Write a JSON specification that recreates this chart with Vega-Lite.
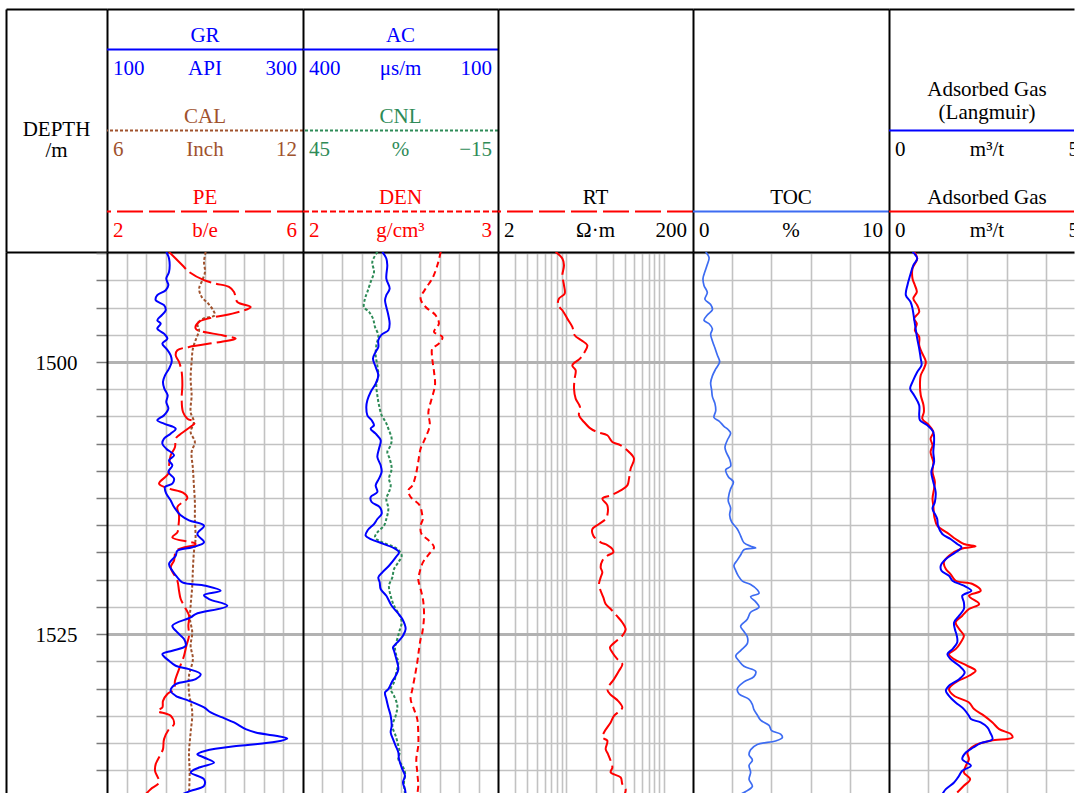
{
  "$schema": "https://vega.github.io/schema/vega-lite/v6.json",
  "background": "white",
  "padding": {"left": 6, "top": 9, "right": 0, "bottom": 0},
  "spacing": 0,
  "bounds": "flush",
  "columns": 6,
  "config": {
    "view": {"stroke": null},
    "axis": {"labels": false, "ticks": false, "grid": false, "domain": true, "domainColor": "#000000", "domainWidth": 2, "gridColor": "#c2c2c2", "gridWidth": 1.6},
    "text": {"font": "Liberation Serif", "fontSize": 21},
    "line": {"strokeWidth": 2, "interpolate": "catmull-rom"}
  },
  "datasets": {
    "header": [
      {"track": "D", "slot": 1.5, "curve": "DEPTH", "title": "DEPTH", "unit": "/m", "lo": "", "hi": ""},
      {"track": "T1", "slot": 0.5, "curve": "GR", "title": "GR", "unit": "API", "lo": "100", "hi": "300"},
      {"track": "T1", "slot": 1.5, "curve": "CAL", "title": "CAL", "unit": "Inch", "lo": "6", "hi": "12"},
      {"track": "T1", "slot": 2.5, "curve": "PE", "title": "PE", "unit": "b/e", "lo": "2", "hi": "6"},
      {"track": "T2", "slot": 0.5, "curve": "AC", "title": "AC", "unit": "μs/m", "lo": "400", "hi": "100"},
      {"track": "T2", "slot": 1.5, "curve": "CNL", "title": "CNL", "unit": "%", "lo": "45", "hi": "−15"},
      {"track": "T2", "slot": 2.5, "curve": "DEN", "title": "DEN", "unit": "g/cm³", "lo": "2", "hi": "3"},
      {"track": "T3", "slot": 2.5, "curve": "RT", "title": "RT", "unit": "Ω·m", "lo": "2", "hi": "200"},
      {"track": "T4", "slot": 2.5, "curve": "TOC", "title": "TOC", "unit": "%", "lo": "0", "hi": "10"},
      {"track": "T5", "slot": 1.5, "curve": "AGL", "title": "Adsorbed Gas\n(Langmuir)", "unit": "m³/t", "lo": "0", "hi": "5"},
      {"track": "T5", "slot": 2.5, "curve": "AG", "title": "Adsorbed Gas", "unit": "m³/t", "lo": "0", "hi": "5"}
    ],
    "depthLabels": [{"depth": 1500}, {"depth": 1525}],
    "GR": [
      {"depth":1489.89,"value":160.5},{"depth":1490.5,"value":163.3},{"depth":1491.73,"value":163.3},{"depth":1492.34,"value":160.5},{"depth":1492.95,"value":162.6},{"depth":1493.41,"value":159.9},{"depth":1493.87,"value":151.3},{"depth":1494.33,"value":149.7},{"depth":1494.79,"value":158.2},{"depth":1495.25,"value":159.9},{"depth":1495.71,"value":155.8},{"depth":1496.17,"value":151.3},{"depth":1496.48,"value":154.8},{"depth":1496.94,"value":151.3},{"depth":1497.4,"value":158.2},{"depth":1497.86,"value":161.6},{"depth":1498.32,"value":156.5},{"depth":1498.77,"value":160.5},{"depth":1499.39,"value":165.0},{"depth":1500.0,"value":166.0},{"depth":1500.61,"value":163.3},{"depth":1501.23,"value":159.2},{"depth":1501.84,"value":157.1},{"depth":1502.45,"value":158.5},{"depth":1503.06,"value":161.9},{"depth":1503.68,"value":160.5},{"depth":1504.29,"value":162.6},{"depth":1504.9,"value":158.2},{"depth":1505.36,"value":151.3},{"depth":1505.67,"value":158.2},{"depth":1506.13,"value":170.1},{"depth":1506.59,"value":164.9},{"depth":1507.05,"value":158.2},{"depth":1507.51,"value":156.5},{"depth":1507.97,"value":160.5},{"depth":1508.58,"value":168.4},{"depth":1509.04,"value":163.3},{"depth":1509.5,"value":166.7},{"depth":1510.11,"value":162.6},{"depth":1510.72,"value":168.4},{"depth":1511.18,"value":166.7},{"depth":1511.49,"value":159.2},{"depth":1512.1,"value":160.5},{"depth":1512.72,"value":165.0},{"depth":1513.33,"value":168.4},{"depth":1514.09,"value":175.2},{"depth":1514.55,"value":183.7},{"depth":1515.04,"value":199.0},{"depth":1515.81,"value":192.2},{"depth":1516.57,"value":199.0},{"depth":1517.03,"value":187.1},{"depth":1517.34,"value":171.8},{"depth":1517.8,"value":170.1},{"depth":1518.57,"value":163.3},{"depth":1519.18,"value":166.7},{"depth":1519.79,"value":171.8},{"depth":1520.25,"value":176.9},{"depth":1520.56,"value":200.7},{"depth":1521.02,"value":216.0},{"depth":1521.42,"value":199.0},{"depth":1521.78,"value":204.1},{"depth":1522.4,"value":222.8},{"depth":1523.16,"value":190.5},{"depth":1523.47,"value":185.4},{"depth":1524.23,"value":166.7},{"depth":1524.85,"value":171.8},{"depth":1525.46,"value":178.6},{"depth":1526.07,"value":180.3},{"depth":1526.53,"value":166.7},{"depth":1526.84,"value":156.5},{"depth":1527.45,"value":163.3},{"depth":1527.91,"value":170.1},{"depth":1528.22,"value":183.7},{"depth":1528.68,"value":195.6},{"depth":1529.14,"value":190.5},{"depth":1529.6,"value":170.1},{"depth":1530.21,"value":164.9},{"depth":1530.67,"value":170.1},{"depth":1531.13,"value":183.7},{"depth":1531.74,"value":199.0},{"depth":1532.2,"value":205.8},{"depth":1532.66,"value":217.7},{"depth":1533.12,"value":229.6},{"depth":1533.73,"value":241.5},{"depth":1534.04,"value":251.7},{"depth":1534.34,"value":272.1},{"depth":1534.59,"value":284.0},{"depth":1534.9,"value":272.1},{"depth":1535.26,"value":234.7},{"depth":1535.72,"value":200.7},{"depth":1536.03,"value":192.2},{"depth":1536.34,"value":199.0},{"depth":1536.8,"value":209.2},{"depth":1537.26,"value":193.9},{"depth":1537.71,"value":185.4},{"depth":1538.33,"value":199.0},{"depth":1538.94,"value":199.0},{"depth":1539.4,"value":185.4},{"depth":1539.71,"value":176.9}
    ],
    "CAL": [
      {"depth":1489.89,"value":9.02},{"depth":1490.81,"value":8.97},{"depth":1491.73,"value":9.0},{"depth":1492.49,"value":8.92},{"depth":1493.26,"value":8.82},{"depth":1494.03,"value":8.9},{"depth":1494.64,"value":9.1},{"depth":1495.25,"value":9.25},{"depth":1495.71,"value":9.3},{"depth":1496.02,"value":8.95},{"depth":1496.48,"value":8.77},{"depth":1497.09,"value":8.82},{"depth":1497.86,"value":8.73},{"depth":1498.77,"value":8.63},{"depth":1500.0,"value":8.59},{"depth":1501.53,"value":8.56},{"depth":1503.06,"value":8.59},{"depth":1504.6,"value":8.56},{"depth":1505.52,"value":8.66},{"depth":1506.44,"value":8.56},{"depth":1507.35,"value":8.69},{"depth":1508.27,"value":8.59},{"depth":1509.8,"value":8.63},{"depth":1511.34,"value":8.66},{"depth":1512.87,"value":8.69},{"depth":1514.4,"value":8.69},{"depth":1516.27,"value":8.71},{"depth":1517.49,"value":8.66},{"depth":1519.03,"value":8.63},{"depth":1520.56,"value":8.61},{"depth":1522.4,"value":8.56},{"depth":1523.62,"value":8.54},{"depth":1524.85,"value":8.61},{"depth":1526.07,"value":8.56},{"depth":1527.3,"value":8.63},{"depth":1528.83,"value":8.51},{"depth":1530.36,"value":8.51},{"depth":1532.2,"value":8.61},{"depth":1534.04,"value":8.56},{"depth":1535.88,"value":8.51},{"depth":1537.71,"value":8.53},{"depth":1539.71,"value":8.51}
    ],
    "PE": [
      {"depth":1489.89,"value":3.266},{"depth":1491.12,"value":3.538},{"depth":1491.73,"value":3.674},{"depth":1492.49,"value":3.98},{"depth":1492.8,"value":4.218},{"depth":1493.11,"value":4.49},{"depth":1493.57,"value":4.592},{"depth":1494.49,"value":4.66},{"depth":1494.95,"value":4.932},{"depth":1495.56,"value":4.558},{"depth":1495.86,"value":4.218},{"depth":1496.32,"value":3.878},{"depth":1496.94,"value":3.81},{"depth":1497.55,"value":4.354},{"depth":1497.86,"value":4.626},{"depth":1498.16,"value":4.32},{"depth":1498.62,"value":3.674},{"depth":1498.93,"value":3.436},{"depth":1499.39,"value":3.402},{"depth":1500.0,"value":3.47},{"depth":1500.92,"value":3.524},{"depth":1502.14,"value":3.538},{"depth":1503.37,"value":3.524},{"depth":1504.6,"value":3.551},{"depth":1505.21,"value":3.64},{"depth":1505.52,"value":3.796},{"depth":1506.28,"value":3.606},{"depth":1506.68,"value":3.483},{"depth":1507.05,"value":3.402},{"depth":1507.81,"value":3.388},{"depth":1508.58,"value":3.3},{"depth":1509.5,"value":3.266},{"depth":1510.26,"value":3.252},{"depth":1511.18,"value":3.062},{"depth":1511.64,"value":3.266},{"depth":1512.01,"value":3.551},{"depth":1512.5,"value":3.64},{"depth":1513.33,"value":3.436},{"depth":1514.09,"value":3.47},{"depth":1515.17,"value":3.456},{"depth":1515.66,"value":3.436},{"depth":1516.12,"value":3.334},{"depth":1516.73,"value":3.81},{"depth":1517.34,"value":3.415},{"depth":1518.26,"value":3.368},{"depth":1518.87,"value":3.3},{"depth":1520.1,"value":3.436},{"depth":1521.02,"value":3.47},{"depth":1521.78,"value":3.504},{"depth":1522.55,"value":3.592},{"depth":1523.31,"value":3.674},{"depth":1524.23,"value":3.66},{"depth":1525.15,"value":3.674},{"depth":1526.07,"value":3.62},{"depth":1526.99,"value":3.572},{"depth":1528.22,"value":3.47},{"depth":1529.29,"value":3.388},{"depth":1530.06,"value":3.368},{"depth":1530.51,"value":3.232},{"depth":1531.13,"value":3.143},{"depth":1531.74,"value":3.13},{"depth":1532.05,"value":3.028},{"depth":1532.51,"value":3.3},{"depth":1533.27,"value":3.368},{"depth":1533.73,"value":3.266},{"depth":1534.65,"value":3.164},{"depth":1535.57,"value":3.143},{"depth":1536.03,"value":3.096},{"depth":1536.95,"value":2.994},{"depth":1537.56,"value":2.98},{"depth":1538.63,"value":3.062},{"depth":1539.25,"value":2.891},{"depth":1539.71,"value":2.79}
    ],
    "AC": [
      {"depth":1489.89,"value":277.9},{"depth":1490.5,"value":271.8},{"depth":1491.12,"value":270.3},{"depth":1492.34,"value":271.8},{"depth":1493.26,"value":266.7},{"depth":1493.87,"value":271.8},{"depth":1494.33,"value":273.8},{"depth":1494.95,"value":271.8},{"depth":1495.71,"value":268.7},{"depth":1496.48,"value":266.7},{"depth":1497.09,"value":268.7},{"depth":1497.49,"value":279.0},{"depth":1498.01,"value":284.1},{"depth":1498.62,"value":284.1},{"depth":1499.08,"value":288.2},{"depth":1499.69,"value":292.3},{"depth":1500.46,"value":288.2},{"depth":1501.23,"value":284.1},{"depth":1501.99,"value":288.2},{"depth":1502.76,"value":295.9},{"depth":1503.52,"value":301.0},{"depth":1504.14,"value":302.6},{"depth":1504.9,"value":301.0},{"depth":1505.36,"value":294.4},{"depth":1505.82,"value":290.8},{"depth":1506.13,"value":295.9},{"depth":1506.59,"value":288.2},{"depth":1507.2,"value":280.5},{"depth":1507.97,"value":283.1},{"depth":1508.73,"value":285.6},{"depth":1509.5,"value":280.5},{"depth":1510.11,"value":279.0},{"depth":1510.72,"value":283.1},{"depth":1511.34,"value":288.2},{"depth":1511.95,"value":285.6},{"depth":1512.41,"value":295.9},{"depth":1512.87,"value":294.4},{"depth":1513.33,"value":282.0},{"depth":1513.94,"value":279.0},{"depth":1514.43,"value":285.6},{"depth":1514.89,"value":290.8},{"depth":1515.5,"value":301.0},{"depth":1515.96,"value":303.6},{"depth":1516.27,"value":295.9},{"depth":1516.73,"value":275.4},{"depth":1517.19,"value":257.4},{"depth":1517.49,"value":252.3},{"depth":1517.95,"value":257.4},{"depth":1518.72,"value":267.7},{"depth":1519.33,"value":277.9},{"depth":1519.79,"value":284.1},{"depth":1520.25,"value":282.0},{"depth":1520.86,"value":280.5},{"depth":1521.48,"value":271.8},{"depth":1522.4,"value":263.6},{"depth":1523.01,"value":254.9},{"depth":1523.62,"value":247.2},{"depth":1524.54,"value":242.1},{"depth":1525.15,"value":246.2},{"depth":1525.77,"value":254.9},{"depth":1526.23,"value":261.5},{"depth":1526.53,"value":260.0},{"depth":1527.3,"value":256.4},{"depth":1528.22,"value":253.3},{"depth":1528.83,"value":257.4},{"depth":1529.44,"value":263.6},{"depth":1530.06,"value":268.7},{"depth":1530.36,"value":273.8},{"depth":1530.97,"value":271.8},{"depth":1531.74,"value":268.7},{"depth":1532.51,"value":265.1},{"depth":1533.43,"value":263.6},{"depth":1534.04,"value":265.1},{"depth":1534.65,"value":261.5},{"depth":1535.26,"value":257.4},{"depth":1535.88,"value":253.3},{"depth":1536.49,"value":252.3},{"depth":1537.41,"value":247.2},{"depth":1538.02,"value":243.1},{"depth":1538.63,"value":246.2},{"depth":1539.25,"value":243.1},{"depth":1539.71,"value":242.1}
    ],
    "CNL": [
      {"depth":1489.89,"value":22.1},{"depth":1490.81,"value":23.67},{"depth":1491.73,"value":23.15},{"depth":1492.65,"value":24.18},{"depth":1493.57,"value":25.2},{"depth":1494.18,"value":25.92},{"depth":1494.95,"value":26.23},{"depth":1495.4,"value":24.69},{"depth":1496.02,"value":23.46},{"depth":1496.78,"value":22.85},{"depth":1497.55,"value":21.82},{"depth":1498.47,"value":22.43},{"depth":1499.39,"value":22.64},{"depth":1500.31,"value":22.13},{"depth":1501.23,"value":21.82},{"depth":1502.14,"value":22.43},{"depth":1503.06,"value":22.13},{"depth":1503.98,"value":21.61},{"depth":1504.9,"value":20.8},{"depth":1505.52,"value":19.56},{"depth":1506.13,"value":18.74},{"depth":1507.05,"value":17.72},{"depth":1507.66,"value":18.02},{"depth":1508.27,"value":19.05},{"depth":1508.89,"value":18.33},{"depth":1509.8,"value":17.72},{"depth":1510.72,"value":18.54},{"depth":1511.34,"value":18.02},{"depth":1511.95,"value":18.54},{"depth":1512.56,"value":19.36},{"depth":1513.48,"value":18.74},{"depth":1514.43,"value":19.36},{"depth":1515.04,"value":20.08},{"depth":1515.66,"value":22.13},{"depth":1516.12,"value":22.85},{"depth":1516.57,"value":20.59},{"depth":1517.19,"value":15.97},{"depth":1517.8,"value":14.64},{"depth":1518.41,"value":15.67},{"depth":1519.03,"value":17.0},{"depth":1519.79,"value":17.51},{"depth":1520.56,"value":18.54},{"depth":1521.48,"value":18.02},{"depth":1522.4,"value":17.0},{"depth":1523.31,"value":15.25},{"depth":1523.93,"value":14.64},{"depth":1524.85,"value":15.46},{"depth":1525.77,"value":16.28},{"depth":1526.23,"value":16.69},{"depth":1526.99,"value":16.28},{"depth":1527.6,"value":15.67},{"depth":1528.52,"value":16.28},{"depth":1529.44,"value":17.0},{"depth":1530.06,"value":18.02},{"depth":1530.67,"value":17.0},{"depth":1531.59,"value":15.97},{"depth":1532.51,"value":16.49},{"depth":1533.43,"value":17.51},{"depth":1534.34,"value":16.49},{"depth":1535.26,"value":15.67},{"depth":1535.88,"value":15.25},{"depth":1536.49,"value":15.67},{"depth":1537.1,"value":14.43},{"depth":1537.71,"value":13.61},{"depth":1538.63,"value":13.92},{"depth":1539.71,"value":13.61}
    ],
    "DEN": [
      {"depth":1489.89,"value":2.706},{"depth":1491.12,"value":2.689},{"depth":1492.34,"value":2.663},{"depth":1493.26,"value":2.629},{"depth":1494.18,"value":2.603},{"depth":1494.95,"value":2.629},{"depth":1495.71,"value":2.68},{"depth":1496.48,"value":2.697},{"depth":1497.24,"value":2.672},{"depth":1497.7,"value":2.715},{"depth":1498.32,"value":2.697},{"depth":1498.77,"value":2.663},{"depth":1499.69,"value":2.663},{"depth":1500.92,"value":2.672},{"depth":1502.14,"value":2.677},{"depth":1503.37,"value":2.66},{"depth":1504.6,"value":2.643},{"depth":1505.82,"value":2.65},{"depth":1507.05,"value":2.626},{"depth":1507.97,"value":2.603},{"depth":1509.19,"value":2.591},{"depth":1510.42,"value":2.578},{"depth":1511.34,"value":2.561},{"depth":1511.8,"value":2.54},{"depth":1512.41,"value":2.552},{"depth":1513.17,"value":2.598},{"depth":1514.09,"value":2.612},{"depth":1514.43,"value":2.615},{"depth":1515.04,"value":2.603},{"depth":1515.81,"value":2.608},{"depth":1516.42,"value":2.646},{"depth":1517.03,"value":2.672},{"depth":1517.65,"value":2.646},{"depth":1518.41,"value":2.615},{"depth":1519.33,"value":2.598},{"depth":1519.95,"value":2.591},{"depth":1520.86,"value":2.603},{"depth":1521.78,"value":2.615},{"depth":1522.7,"value":2.62},{"depth":1523.62,"value":2.62},{"depth":1524.85,"value":2.612},{"depth":1525.46,"value":2.603},{"depth":1526.38,"value":2.595},{"depth":1527.6,"value":2.586},{"depth":1528.83,"value":2.574},{"depth":1530.06,"value":2.561},{"depth":1530.97,"value":2.552},{"depth":1531.89,"value":2.569},{"depth":1532.81,"value":2.586},{"depth":1534.04,"value":2.591},{"depth":1535.26,"value":2.591},{"depth":1536.49,"value":2.581},{"depth":1537.71,"value":2.586},{"depth":1538.94,"value":2.591},{"depth":1539.71,"value":2.586}
    ],
    "RT": [
      {"depth":1489.89,"value":7.81},{"depth":1490.5,"value":9.14},{"depth":1491.12,"value":9.5},{"depth":1492.03,"value":9.14},{"depth":1492.95,"value":9.5},{"depth":1493.72,"value":9.66},{"depth":1494.18,"value":8.45},{"depth":1494.79,"value":8.25},{"depth":1495.25,"value":9.14},{"depth":1496.02,"value":10.28},{"depth":1496.78,"value":11.57},{"depth":1497.55,"value":12.23},{"depth":1498.01,"value":14.31},{"depth":1498.47,"value":16.49},{"depth":1499.08,"value":15.49},{"depth":1499.69,"value":13.87},{"depth":1500.31,"value":11.57},{"depth":1500.77,"value":12.52},{"depth":1501.53,"value":12.23},{"depth":1502.45,"value":12.04},{"depth":1503.37,"value":12.52},{"depth":1504.14,"value":13.87},{"depth":1504.9,"value":13.54},{"depth":1505.52,"value":15.25},{"depth":1506.13,"value":17.85},{"depth":1506.44,"value":20.88},{"depth":1506.74,"value":26.45},{"depth":1507.35,"value":29.77},{"depth":1507.66,"value":36.25},{"depth":1508.27,"value":44.13},{"depth":1508.89,"value":49.65},{"depth":1509.8,"value":45.89},{"depth":1510.72,"value":44.13},{"depth":1511.34,"value":42.42},{"depth":1511.8,"value":36.25},{"depth":1512.26,"value":28.61},{"depth":1512.56,"value":23.51},{"depth":1513.17,"value":26.45},{"depth":1514.09,"value":26.45},{"depth":1514.43,"value":25.43},{"depth":1514.89,"value":21.72},{"depth":1515.35,"value":18.56},{"depth":1515.96,"value":19.0},{"depth":1516.57,"value":22.6},{"depth":1516.82,"value":26.45},{"depth":1517.19,"value":29.77},{"depth":1517.49,"value":30.48},{"depth":1517.8,"value":26.45},{"depth":1518.26,"value":23.51},{"depth":1518.87,"value":22.6},{"depth":1519.33,"value":23.51},{"depth":1519.79,"value":22.6},{"depth":1520.4,"value":21.72},{"depth":1520.86,"value":22.24},{"depth":1521.63,"value":24.06},{"depth":1522.24,"value":25.43},{"depth":1522.7,"value":28.61},{"depth":1523.31,"value":32.97},{"depth":1523.93,"value":37.7},{"depth":1524.54,"value":40.77},{"depth":1525.15,"value":37.7},{"depth":1525.61,"value":32.97},{"depth":1526.23,"value":28.16},{"depth":1526.69,"value":29.77},{"depth":1527.3,"value":33.5},{"depth":1527.76,"value":37.7},{"depth":1528.37,"value":34.84},{"depth":1529.14,"value":30.97},{"depth":1530.06,"value":26.45},{"depth":1530.51,"value":28.16},{"depth":1531.13,"value":34.03},{"depth":1531.74,"value":37.7},{"depth":1532.05,"value":35.67},{"depth":1532.51,"value":30.97},{"depth":1533.12,"value":28.61},{"depth":1534.04,"value":24.44},{"depth":1534.5,"value":23.51},{"depth":1534.8,"value":26.45},{"depth":1535.57,"value":25.43},{"depth":1536.03,"value":26.88},{"depth":1536.64,"value":28.61},{"depth":1537.26,"value":29.77},{"depth":1537.71,"value":28.61},{"depth":1538.17,"value":36.25},{"depth":1538.79,"value":37.7},{"depth":1539.25,"value":40.77},{"depth":1539.71,"value":39.82}
    ],
    "TOC": [
      {"depth":1489.89,"value":0.65},{"depth":1490.42,"value":0.82},{"depth":1491.05,"value":0.73},{"depth":1491.69,"value":0.61},{"depth":1492.33,"value":0.51},{"depth":1492.97,"value":0.56},{"depth":1493.61,"value":0.73},{"depth":1494.25,"value":0.61},{"depth":1494.73,"value":0.9},{"depth":1495.21,"value":0.99},{"depth":1495.69,"value":0.73},{"depth":1496.17,"value":0.56},{"depth":1496.49,"value":0.82},{"depth":1496.96,"value":0.99},{"depth":1497.44,"value":0.9},{"depth":1498.08,"value":0.99},{"depth":1498.72,"value":1.12},{"depth":1499.36,"value":1.24},{"depth":1500.0,"value":1.36},{"depth":1500.64,"value":1.16},{"depth":1501.28,"value":0.99},{"depth":1501.92,"value":0.9},{"depth":1502.56,"value":0.95},{"depth":1503.19,"value":0.99},{"depth":1503.83,"value":1.12},{"depth":1504.47,"value":1.16},{"depth":1505.11,"value":1.07},{"depth":1505.43,"value":1.33},{"depth":1505.91,"value":1.58},{"depth":1506.23,"value":1.8},{"depth":1506.55,"value":1.92},{"depth":1507.19,"value":1.75},{"depth":1507.83,"value":1.63},{"depth":1508.31,"value":1.7},{"depth":1508.95,"value":1.87},{"depth":1509.58,"value":1.92},{"depth":1509.9,"value":1.67},{"depth":1510.54,"value":1.8},{"depth":1511.02,"value":2.06},{"depth":1511.66,"value":1.92},{"depth":1512.14,"value":1.84},{"depth":1512.78,"value":1.8},{"depth":1513.42,"value":1.92},{"depth":1514.06,"value":1.87},{"depth":1514.7,"value":1.97},{"depth":1515.34,"value":2.26},{"depth":1515.97,"value":2.43},{"depth":1516.61,"value":2.6},{"depth":1516.93,"value":2.94},{"depth":1517.09,"value":3.2},{"depth":1517.25,"value":2.6},{"depth":1517.73,"value":2.43},{"depth":1518.21,"value":2.26},{"depth":1518.69,"value":2.09},{"depth":1519.17,"value":2.18},{"depth":1519.65,"value":2.31},{"depth":1520.13,"value":2.52},{"depth":1520.45,"value":2.94},{"depth":1520.93,"value":3.28},{"depth":1521.25,"value":3.37},{"depth":1521.57,"value":2.94},{"depth":1522.04,"value":3.2},{"depth":1522.52,"value":3.37},{"depth":1523.0,"value":2.94},{"depth":1523.64,"value":2.77},{"depth":1524.28,"value":2.43},{"depth":1524.76,"value":2.6},{"depth":1525.24,"value":2.77},{"depth":1525.88,"value":2.77},{"depth":1526.52,"value":2.43},{"depth":1527.0,"value":2.18},{"depth":1527.48,"value":2.35},{"depth":1527.96,"value":2.6},{"depth":1528.43,"value":3.2},{"depth":1528.91,"value":3.11},{"depth":1529.39,"value":2.6},{"depth":1530.03,"value":2.26},{"depth":1530.51,"value":2.35},{"depth":1530.99,"value":2.86},{"depth":1531.47,"value":3.03},{"depth":1531.95,"value":3.11},{"depth":1532.43,"value":3.28},{"depth":1532.91,"value":3.45},{"depth":1533.39,"value":3.88},{"depth":1533.87,"value":4.01},{"depth":1534.19,"value":4.47},{"depth":1534.5,"value":4.56},{"depth":1534.82,"value":4.22},{"depth":1535.14,"value":3.28},{"depth":1535.62,"value":2.94},{"depth":1536.1,"value":2.86},{"depth":1536.58,"value":3.03},{"depth":1537.06,"value":2.86},{"depth":1537.7,"value":2.94},{"depth":1538.34,"value":2.86},{"depth":1538.98,"value":3.03},{"depth":1539.46,"value":2.69},{"depth":1539.71,"value":2.43}
    ],
    "AGL": [
      {"depth":1489.89,"value":0.6},{"depth":1490.5,"value":0.72},{"depth":1491.12,"value":0.62},{"depth":1492.03,"value":0.54},{"depth":1492.95,"value":0.47},{"depth":1493.87,"value":0.43},{"depth":1494.49,"value":0.55},{"depth":1495.1,"value":0.6},{"depth":1496.02,"value":0.64},{"depth":1496.94,"value":0.68},{"depth":1497.86,"value":0.72},{"depth":1498.77,"value":0.77},{"depth":1499.69,"value":0.81},{"depth":1500.31,"value":0.83},{"depth":1500.92,"value":0.72},{"depth":1501.84,"value":0.6},{"depth":1502.45,"value":0.54},{"depth":1503.06,"value":0.64},{"depth":1503.98,"value":0.77},{"depth":1504.9,"value":0.77},{"depth":1505.36,"value":0.79},{"depth":1505.82,"value":0.98},{"depth":1506.44,"value":1.13},{"depth":1507.35,"value":1.15},{"depth":1508.27,"value":1.13},{"depth":1509.19,"value":1.15},{"depth":1510.11,"value":1.08},{"depth":1511.03,"value":1.13},{"depth":1511.95,"value":1.19},{"depth":1512.87,"value":1.17},{"depth":1513.48,"value":1.11},{"depth":1514.09,"value":1.19},{"depth":1514.43,"value":1.23},{"depth":1515.04,"value":1.25},{"depth":1515.81,"value":1.36},{"depth":1516.27,"value":1.57},{"depth":1516.73,"value":1.74},{"depth":1517.03,"value":1.85},{"depth":1517.49,"value":1.7},{"depth":1518.11,"value":1.45},{"depth":1518.72,"value":1.32},{"depth":1519.18,"value":1.34},{"depth":1519.64,"value":1.53},{"depth":1520.1,"value":1.62},{"depth":1520.56,"value":1.91},{"depth":1521.02,"value":2.1},{"depth":1521.48,"value":1.87},{"depth":1522.09,"value":1.91},{"depth":1522.7,"value":1.91},{"depth":1523.31,"value":1.79},{"depth":1523.93,"value":1.66},{"depth":1524.54,"value":1.68},{"depth":1525.15,"value":1.73},{"depth":1525.77,"value":1.74},{"depth":1526.38,"value":1.62},{"depth":1526.84,"value":1.49},{"depth":1527.3,"value":1.57},{"depth":1527.91,"value":1.79},{"depth":1528.52,"value":1.93},{"depth":1529.14,"value":1.79},{"depth":1529.75,"value":1.53},{"depth":1530.21,"value":1.45},{"depth":1530.67,"value":1.53},{"depth":1531.28,"value":1.7},{"depth":1531.89,"value":1.91},{"depth":1532.51,"value":2.04},{"depth":1532.81,"value":2.09},{"depth":1533.12,"value":2.34},{"depth":1533.58,"value":2.51},{"depth":1534.04,"value":2.58},{"depth":1534.65,"value":2.64},{"depth":1535.02,"value":2.34},{"depth":1535.42,"value":2.15},{"depth":1535.88,"value":1.96},{"depth":1536.49,"value":1.87},{"depth":1537.1,"value":2.09},{"depth":1537.56,"value":1.87},{"depth":1538.17,"value":1.76},{"depth":1538.63,"value":1.66},{"depth":1539.25,"value":1.45},{"depth":1539.71,"value":1.36}
    ],
    "AG": [
      {"depth":1489.89,"value":0.64},{"depth":1490.5,"value":0.72},{"depth":1491.42,"value":0.6},{"depth":1492.34,"value":0.6},{"depth":1492.95,"value":0.66},{"depth":1493.57,"value":0.71},{"depth":1494.18,"value":0.62},{"depth":1494.79,"value":0.72},{"depth":1495.4,"value":0.77},{"depth":1496.02,"value":0.64},{"depth":1496.48,"value":0.71},{"depth":1497.09,"value":0.66},{"depth":1497.7,"value":0.77},{"depth":1498.47,"value":0.77},{"depth":1499.08,"value":0.83},{"depth":1500.0,"value":0.94},{"depth":1500.61,"value":0.89},{"depth":1501.23,"value":0.81},{"depth":1502.14,"value":0.79},{"depth":1503.06,"value":0.81},{"depth":1503.98,"value":0.88},{"depth":1504.6,"value":0.89},{"depth":1505.21,"value":0.85},{"depth":1505.82,"value":1.02},{"depth":1506.44,"value":1.13},{"depth":1507.05,"value":1.06},{"depth":1507.66,"value":1.11},{"depth":1508.27,"value":1.06},{"depth":1509.19,"value":1.13},{"depth":1510.11,"value":1.11},{"depth":1511.03,"value":1.17},{"depth":1511.64,"value":1.15},{"depth":1512.56,"value":1.11},{"depth":1513.17,"value":1.13},{"depth":1514.09,"value":1.15},{"depth":1514.43,"value":1.17},{"depth":1515.04,"value":1.23},{"depth":1515.81,"value":1.53},{"depth":1516.27,"value":1.7},{"depth":1516.73,"value":1.91},{"depth":1516.94,"value":2.21},{"depth":1517.19,"value":1.83},{"depth":1517.8,"value":1.53},{"depth":1518.41,"value":1.4},{"depth":1519.03,"value":1.45},{"depth":1519.49,"value":1.57},{"depth":1520.1,"value":1.7},{"depth":1520.4,"value":2.13},{"depth":1521.02,"value":2.34},{"depth":1521.48,"value":2.04},{"depth":1522.24,"value":2.3},{"depth":1522.7,"value":2.04},{"depth":1523.31,"value":1.87},{"depth":1523.93,"value":1.7},{"depth":1524.54,"value":1.79},{"depth":1525.15,"value":1.91},{"depth":1525.77,"value":1.83},{"depth":1526.38,"value":1.7},{"depth":1526.84,"value":1.53},{"depth":1527.3,"value":1.66},{"depth":1527.91,"value":2.0},{"depth":1528.37,"value":2.21},{"depth":1528.83,"value":2.04},{"depth":1529.44,"value":1.7},{"depth":1530.06,"value":1.53},{"depth":1530.67,"value":1.66},{"depth":1531.28,"value":2.04},{"depth":1531.89,"value":2.17},{"depth":1532.51,"value":2.43},{"depth":1533.12,"value":2.64},{"depth":1533.73,"value":2.81},{"depth":1534.19,"value":3.11},{"depth":1534.5,"value":3.15},{"depth":1534.8,"value":2.6},{"depth":1535.26,"value":2.17},{"depth":1535.88,"value":2.0},{"depth":1536.49,"value":2.04},{"depth":1537.1,"value":1.96},{"depth":1537.71,"value":1.91},{"depth":1538.33,"value":2.07},{"depth":1538.94,"value":1.91},{"depth":1539.56,"value":1.74}
    ]
  },
  "concat": [
    {
      "width": 101, "height": 243,
      "data": {"name": "header"},
      "transform": [{"filter": "datum.track === 'D'"}],
      "encoding": {
        "y": {"field": "slot", "type": "quantitative", "title": null, "scale": {"domain": [0, 3], "reverse": true, "nice": false, "zero": false}, "axis": {"orient": "left"}},
        "x": {"datum": 0.5, "type": "quantitative", "title": null, "scale": {"domain": [0, 1], "nice": false, "zero": false}, "axis": {"orient": "top"}}
      },
      "layer": [
        {"mark": {"type": "text", "baseline": "alphabetic", "dy": 5.5, "color": "#000000"}, "encoding": {"text": {"field": "title"}}},
        {"mark": {"type": "text", "baseline": "alphabetic", "dy": 26.5, "color": "#000000"}, "encoding": {"text": {"field": "unit"}}}
      ]
    },
    {
      "width": 196, "height": 243,
      "data": {"name": "header"},
      "transform": [{"filter": "datum.track === 'T1'"}],
      "encoding": {
        "y": {"field": "slot", "type": "quantitative", "title": null, "scale": {"domain": [0, 3], "reverse": true, "nice": false, "zero": false}, "axis": {"orient": "left"}},
        "color": {"field": "curve", "type": "nominal", "legend": null, "scale": {"domain": ["GR", "CAL", "PE", "AC", "CNL", "DEN", "RT", "TOC", "AGL", "AG"], "range": ["#0000ff", "#a0522d", "#ff0000", "#0000ff", "#2e8b57", "#ff0000", "#ff0000", "#3d6cf2", "#0000ff", "#ff0000"]}}
      },
      "layer": [
        {"mark": {"type": "rule", "strokeWidth": 2}, "encoding": {"strokeDash": {"field": "curve", "type": "nominal", "legend": null, "scale": {"domain": ["GR", "CAL", "PE", "AC", "CNL", "DEN", "RT", "TOC", "AGL", "AG"], "range": [[1, 0], [3, 2], [26, 6], [1, 0], [3, 2], [6, 3], [26, 6], [1, 0], [1, 0], [1, 0]]}}}},
        {"mark": {"type": "text", "baseline": "alphabetic", "dy": -8}, "encoding": {"x": {"datum": 0.5, "type": "quantitative", "title": null, "scale": {"domain": [0, 1], "nice": false, "zero": false}, "axis": {"orient": "top"}}, "text": {"field": "title"}}},
        {"mark": {"type": "text", "baseline": "alphabetic", "dy": 25}, "encoding": {"x": {"datum": 0.5, "type": "quantitative", "title": null, "scale": {"domain": [0, 1], "nice": false, "zero": false}, "axis": {"orient": "top"}}, "text": {"field": "unit"}}},
        {"mark": {"type": "text", "baseline": "alphabetic", "dy": 25, "dx": 6, "align": "left"}, "encoding": {"x": {"datum": 0, "type": "quantitative", "title": null, "scale": {"domain": [0, 1], "nice": false, "zero": false}, "axis": {"orient": "top"}}, "text": {"field": "lo"}}},
        {"mark": {"type": "text", "baseline": "alphabetic", "dy": 25, "dx": -6, "align": "right"}, "encoding": {"x": {"datum": 1, "type": "quantitative", "title": null, "scale": {"domain": [0, 1], "nice": false, "zero": false}, "axis": {"orient": "top"}}, "text": {"field": "hi"}}}
      ]
    },
    {
      "width": 195, "height": 243,
      "data": {"name": "header"},
      "transform": [{"filter": "datum.track === 'T2'"}],
      "encoding": {
        "y": {"field": "slot", "type": "quantitative", "title": null, "scale": {"domain": [0, 3], "reverse": true, "nice": false, "zero": false}, "axis": {"orient": "left"}},
        "color": {"field": "curve", "type": "nominal", "legend": null, "scale": {"domain": ["GR", "CAL", "PE", "AC", "CNL", "DEN", "RT", "TOC", "AGL", "AG"], "range": ["#0000ff", "#a0522d", "#ff0000", "#0000ff", "#2e8b57", "#ff0000", "#ff0000", "#3d6cf2", "#0000ff", "#ff0000"]}}
      },
      "layer": [
        {"mark": {"type": "rule", "strokeWidth": 2}, "encoding": {"strokeDash": {"field": "curve", "type": "nominal", "legend": null, "scale": {"domain": ["GR", "CAL", "PE", "AC", "CNL", "DEN", "RT", "TOC", "AGL", "AG"], "range": [[1, 0], [3, 2], [26, 6], [1, 0], [3, 2], [6, 3], [26, 6], [1, 0], [1, 0], [1, 0]]}}}},
        {"mark": {"type": "text", "baseline": "alphabetic", "dy": -8}, "encoding": {"x": {"datum": 0.5, "type": "quantitative", "title": null, "scale": {"domain": [0, 1], "nice": false, "zero": false}, "axis": {"orient": "top"}}, "text": {"field": "title"}}},
        {"mark": {"type": "text", "baseline": "alphabetic", "dy": 25}, "encoding": {"x": {"datum": 0.5, "type": "quantitative", "title": null, "scale": {"domain": [0, 1], "nice": false, "zero": false}, "axis": {"orient": "top"}}, "text": {"field": "unit"}}},
        {"mark": {"type": "text", "baseline": "alphabetic", "dy": 25, "dx": 6, "align": "left"}, "encoding": {"x": {"datum": 0, "type": "quantitative", "title": null, "scale": {"domain": [0, 1], "nice": false, "zero": false}, "axis": {"orient": "top"}}, "text": {"field": "lo"}}},
        {"mark": {"type": "text", "baseline": "alphabetic", "dy": 25, "dx": -6, "align": "right"}, "encoding": {"x": {"datum": 1, "type": "quantitative", "title": null, "scale": {"domain": [0, 1], "nice": false, "zero": false}, "axis": {"orient": "top"}}, "text": {"field": "hi"}}}
      ]
    },
    {
      "width": 195, "height": 243,
      "data": {"name": "header"},
      "transform": [{"filter": "datum.track === 'T3'"}],
      "encoding": {
        "y": {"field": "slot", "type": "quantitative", "title": null, "scale": {"domain": [0, 3], "reverse": true, "nice": false, "zero": false}, "axis": {"orient": "left"}}
      },
      "layer": [
        {"mark": {"type": "rule", "strokeWidth": 2}, "encoding": {
          "color": {"field": "curve", "type": "nominal", "legend": null, "scale": {"domain": ["GR", "CAL", "PE", "AC", "CNL", "DEN", "RT", "TOC", "AGL", "AG"], "range": ["#0000ff", "#a0522d", "#ff0000", "#0000ff", "#2e8b57", "#ff0000", "#ff0000", "#3d6cf2", "#0000ff", "#ff0000"]}},
          "strokeDash": {"field": "curve", "type": "nominal", "legend": null, "scale": {"domain": ["GR", "CAL", "PE", "AC", "CNL", "DEN", "RT", "TOC", "AGL", "AG"], "range": [[1, 0], [3, 2], [26, 6], [1, 0], [3, 2], [6, 3], [26, 6], [1, 0], [1, 0], [1, 0]]}}}},
        {"mark": {"type": "text", "baseline": "alphabetic", "dy": -8, "color": "#000000"}, "encoding": {"x": {"datum": 0.5, "type": "quantitative", "title": null, "scale": {"domain": [0, 1], "nice": false, "zero": false}, "axis": {"orient": "top"}}, "text": {"field": "title"}}},
        {"mark": {"type": "text", "baseline": "alphabetic", "dy": 25, "color": "#000000"}, "encoding": {"x": {"datum": 0.5, "type": "quantitative", "title": null, "scale": {"domain": [0, 1], "nice": false, "zero": false}, "axis": {"orient": "top"}}, "text": {"field": "unit"}}},
        {"mark": {"type": "text", "baseline": "alphabetic", "dy": 25, "dx": 6, "align": "left", "color": "#000000"}, "encoding": {"x": {"datum": 0, "type": "quantitative", "title": null, "scale": {"domain": [0, 1], "nice": false, "zero": false}, "axis": {"orient": "top"}}, "text": {"field": "lo"}}},
        {"mark": {"type": "text", "baseline": "alphabetic", "dy": 25, "dx": -6, "align": "right", "color": "#000000"}, "encoding": {"x": {"datum": 1, "type": "quantitative", "title": null, "scale": {"domain": [0, 1], "nice": false, "zero": false}, "axis": {"orient": "top"}}, "text": {"field": "hi"}}}
      ]
    },
    {
      "width": 196, "height": 243,
      "data": {"name": "header"},
      "transform": [{"filter": "datum.track === 'T4'"}],
      "encoding": {
        "y": {"field": "slot", "type": "quantitative", "title": null, "scale": {"domain": [0, 3], "reverse": true, "nice": false, "zero": false}, "axis": {"orient": "left"}}
      },
      "layer": [
        {"mark": {"type": "rule", "strokeWidth": 2}, "encoding": {
          "color": {"field": "curve", "type": "nominal", "legend": null, "scale": {"domain": ["GR", "CAL", "PE", "AC", "CNL", "DEN", "RT", "TOC", "AGL", "AG"], "range": ["#0000ff", "#a0522d", "#ff0000", "#0000ff", "#2e8b57", "#ff0000", "#ff0000", "#3d6cf2", "#0000ff", "#ff0000"]}},
          "strokeDash": {"field": "curve", "type": "nominal", "legend": null, "scale": {"domain": ["GR", "CAL", "PE", "AC", "CNL", "DEN", "RT", "TOC", "AGL", "AG"], "range": [[1, 0], [3, 2], [26, 6], [1, 0], [3, 2], [6, 3], [26, 6], [1, 0], [1, 0], [1, 0]]}}}},
        {"mark": {"type": "text", "baseline": "alphabetic", "dy": -8, "color": "#000000"}, "encoding": {"x": {"datum": 0.5, "type": "quantitative", "title": null, "scale": {"domain": [0, 1], "nice": false, "zero": false}, "axis": {"orient": "top"}}, "text": {"field": "title"}}},
        {"mark": {"type": "text", "baseline": "alphabetic", "dy": 25, "color": "#000000"}, "encoding": {"x": {"datum": 0.5, "type": "quantitative", "title": null, "scale": {"domain": [0, 1], "nice": false, "zero": false}, "axis": {"orient": "top"}}, "text": {"field": "unit"}}},
        {"mark": {"type": "text", "baseline": "alphabetic", "dy": 25, "dx": 6, "align": "left", "color": "#000000"}, "encoding": {"x": {"datum": 0, "type": "quantitative", "title": null, "scale": {"domain": [0, 1], "nice": false, "zero": false}, "axis": {"orient": "top"}}, "text": {"field": "lo"}}},
        {"mark": {"type": "text", "baseline": "alphabetic", "dy": 25, "dx": -6, "align": "right", "color": "#000000"}, "encoding": {"x": {"datum": 1, "type": "quantitative", "title": null, "scale": {"domain": [0, 1], "nice": false, "zero": false}, "axis": {"orient": "top"}}, "text": {"field": "hi"}}}
      ]
    },
    {
      "width": 185, "height": 243,
      "data": {"name": "header"},
      "transform": [{"filter": "datum.track === 'T5'"}],
      "encoding": {
        "y": {"field": "slot", "type": "quantitative", "title": null, "scale": {"domain": [0, 3], "reverse": true, "nice": false, "zero": false}, "axis": {"orient": "left"}}
      },
      "layer": [
        {"mark": {"type": "rule", "strokeWidth": 2}, "encoding": {
          "color": {"field": "curve", "type": "nominal", "legend": null, "scale": {"domain": ["GR", "CAL", "PE", "AC", "CNL", "DEN", "RT", "TOC", "AGL", "AG"], "range": ["#0000ff", "#a0522d", "#ff0000", "#0000ff", "#2e8b57", "#ff0000", "#ff0000", "#3d6cf2", "#0000ff", "#ff0000"]}},
          "strokeDash": {"field": "curve", "type": "nominal", "legend": null, "scale": {"domain": ["GR", "CAL", "PE", "AC", "CNL", "DEN", "RT", "TOC", "AGL", "AG"], "range": [[1, 0], [3, 2], [26, 6], [1, 0], [3, 2], [6, 3], [26, 6], [1, 0], [1, 0], [1, 0]]}}}},
        {"transform": [{"filter": "datum.slot === 2.5"}], "mark": {"type": "text", "baseline": "alphabetic", "dy": -8, "color": "#000000"}, "encoding": {"x": {"datum": 0.5, "type": "quantitative", "title": null, "scale": {"domain": [0, 0.9439], "nice": false, "zero": false}, "axis": {"orient": "top"}}, "text": {"field": "title"}}},
        {"transform": [{"filter": "datum.slot === 1.5"}], "mark": {"type": "text", "baseline": "alphabetic", "dy": -35, "lineBreak": "\n", "lineHeight": 23, "color": "#000000"}, "encoding": {"x": {"datum": 0.5, "type": "quantitative", "title": null, "scale": {"domain": [0, 0.9439], "nice": false, "zero": false}, "axis": {"orient": "top"}}, "text": {"field": "title"}}},
        {"mark": {"type": "text", "baseline": "alphabetic", "dy": 25, "color": "#000000"}, "encoding": {"x": {"datum": 0.5, "type": "quantitative", "title": null, "scale": {"domain": [0, 0.9439], "nice": false, "zero": false}, "axis": {"orient": "top"}}, "text": {"field": "unit"}}},
        {"mark": {"type": "text", "baseline": "alphabetic", "dy": 25, "dx": 6, "align": "left", "color": "#000000"}, "encoding": {"x": {"datum": 0, "type": "quantitative", "title": null, "scale": {"domain": [0, 0.9439], "nice": false, "zero": false}, "axis": {"orient": "top"}}, "text": {"field": "lo"}}},
        {"mark": {"type": "text", "baseline": "alphabetic", "dy": 25, "dx": -6, "align": "right", "color": "#000000", "clip": true}, "encoding": {"x": {"datum": 1, "type": "quantitative", "title": null, "scale": {"domain": [0, 0.9439], "nice": false, "zero": false}, "axis": {"orient": "top"}}, "text": {"field": "hi"}}}
      ]
    },
    {
      "width": 101, "height": 541,
      "data": {"name": "depthLabels"},
      "mark": {"type": "text", "baseline": "middle", "dy": 2, "color": "#000000"},
      "encoding": {
        "y": {"field": "depth", "type": "quantitative", "title": null, "scale": {"domain": [1489.9, 1539.6], "reverse": true, "nice": false, "zero": false}, "axis": {"orient": "left"}},
        "x": {"datum": 0.5, "type": "quantitative", "title": null, "scale": {"domain": [0, 1], "nice": false, "zero": false}, "axis": {"orient": "top"}},
        "text": {"field": "depth", "type": "quantitative", "format": "d"}
      }
    },
    {
      "width": 196, "height": 541,
      "encoding": {
        "y": {"field": "depth", "type": "quantitative", "title": null, "scale": {"domain": [1489.9, 1539.6], "reverse": true, "nice": false, "zero": false},
          "axis": {"orient": "left", "grid": true, "values": [1490, 1492.5, 1495, 1497.5, 1500, 1502.5, 1505, 1507.5, 1510, 1512.5, 1515, 1517.5, 1520, 1522.5, 1525, 1527.5, 1530, 1532.5, 1535, 1537.5],
            "gridWidth": {"condition": {"test": "datum.value % 25 === 0", "value": 3}, "value": 1.6},
            "gridColor": {"condition": {"test": "datum.value % 25 === 0", "value": "#b2b2b2"}, "value": "#c2c2c2"},
            "ticks": true, "tickSize": 11, "tickColor": "#7a7a7a", "tickWidth": 1.5}}
      },
      "layer": [
        {"data": {"name": "CAL"}, "mark": {"type": "line", "color": "#a0522d", "strokeDash": [3, 2], "strokeWidth": 2, "clip": true},
          "encoding": {"x": {"field": "value", "type": "quantitative", "title": null, "scale": {"domain": [6, 12], "nice": false, "zero": false}, "axis": null}, "order": {"field": "depth", "type": "quantitative"}}},
        {"data": {"name": "PE"}, "mark": {"type": "line", "color": "#ff0000", "strokeDash": [24, 5], "strokeWidth": 2, "clip": true},
          "encoding": {"x": {"field": "value", "type": "quantitative", "title": null, "scale": {"domain": [2, 6], "nice": false, "zero": false}, "axis": null}, "order": {"field": "depth", "type": "quantitative"}}},
        {"data": {"name": "GR"}, "mark": {"type": "line", "color": "#0000ff", "strokeWidth": 2, "clip": true},
          "encoding": {"x": {"field": "value", "type": "quantitative", "title": null, "scale": {"domain": [100, 300], "nice": false, "zero": false}, "axis": {"orient": "top", "grid": true, "values": [120, 140, 160, 180, 200, 220, 240, 260, 280]}}, "order": {"field": "depth", "type": "quantitative"}}}
      ],
      "resolve": {"scale": {"x": "independent"}, "axis": {"x": "independent"}}
    },
    {
      "width": 195, "height": 541,
      "encoding": {
        "y": {"field": "depth", "type": "quantitative", "title": null, "scale": {"domain": [1489.9, 1539.6], "reverse": true, "nice": false, "zero": false},
          "axis": {"orient": "left", "grid": true, "values": [1490, 1492.5, 1495, 1497.5, 1500, 1502.5, 1505, 1507.5, 1510, 1512.5, 1515, 1517.5, 1520, 1522.5, 1525, 1527.5, 1530, 1532.5, 1535, 1537.5],
            "gridWidth": {"condition": {"test": "datum.value % 25 === 0", "value": 3}, "value": 1.6},
            "gridColor": {"condition": {"test": "datum.value % 25 === 0", "value": "#b2b2b2"}, "value": "#c2c2c2"}}}
      },
      "layer": [
        {"data": {"name": "CNL"}, "mark": {"type": "line", "color": "#2e8b57", "strokeDash": [3, 2], "strokeWidth": 2, "clip": true},
          "encoding": {"x": {"field": "value", "type": "quantitative", "title": null, "scale": {"domain": [-15, 45], "reverse": true, "nice": false, "zero": false}, "axis": null}, "order": {"field": "depth", "type": "quantitative"}}},
        {"data": {"name": "DEN"}, "mark": {"type": "line", "color": "#ff0000", "strokeDash": [6, 4], "strokeWidth": 2, "clip": true},
          "encoding": {"x": {"field": "value", "type": "quantitative", "title": null, "scale": {"domain": [2, 3], "nice": false, "zero": false}, "axis": null}, "order": {"field": "depth", "type": "quantitative"}}},
        {"data": {"name": "AC"}, "mark": {"type": "line", "color": "#0000ff", "strokeWidth": 2, "clip": true},
          "encoding": {"x": {"field": "value", "type": "quantitative", "title": null, "scale": {"domain": [100, 400], "reverse": true, "nice": false, "zero": false}, "axis": {"orient": "top", "grid": true, "values": [130, 160, 190, 220, 250, 280, 310, 340, 370]}}, "order": {"field": "depth", "type": "quantitative"}}}
      ],
      "resolve": {"scale": {"x": "independent"}, "axis": {"x": "independent"}}
    },
    {
      "width": 195, "height": 541,
      "data": {"name": "RT"},
      "mark": {"type": "line", "color": "#ff0000", "strokeDash": [26, 5], "strokeWidth": 2, "clip": true},
      "encoding": {
        "y": {"field": "depth", "type": "quantitative", "title": null, "scale": {"domain": [1489.9, 1539.6], "reverse": true, "nice": false, "zero": false},
          "axis": {"orient": "left", "grid": true, "values": [1490, 1492.5, 1495, 1497.5, 1500, 1502.5, 1505, 1507.5, 1510, 1512.5, 1515, 1517.5, 1520, 1522.5, 1525, 1527.5, 1530, 1532.5, 1535, 1537.5],
            "gridWidth": {"condition": {"test": "datum.value % 25 === 0", "value": 3}, "value": 1.6},
            "gridColor": {"condition": {"test": "datum.value % 25 === 0", "value": "#b2b2b2"}, "value": "#c2c2c2"}}},
        "x": {"field": "value", "type": "quantitative", "title": null, "scale": {"type": "log", "domain": [2, 200], "nice": false}, "axis": {"orient": "top", "grid": true, "values": [3, 4, 5, 6, 7, 8, 9, 10, 20, 30, 40, 50, 60, 70, 80, 90, 100]}},
        "order": {"field": "depth", "type": "quantitative"}
      }
    },
    {
      "width": 196, "height": 541,
      "data": {"name": "TOC"},
      "mark": {"type": "line", "color": "#3d6cf2", "strokeWidth": 1.7, "clip": true},
      "encoding": {
        "y": {"field": "depth", "type": "quantitative", "title": null, "scale": {"domain": [1489.9, 1539.6], "reverse": true, "nice": false, "zero": false},
          "axis": {"orient": "left", "grid": true, "values": [1490, 1492.5, 1495, 1497.5, 1500, 1502.5, 1505, 1507.5, 1510, 1512.5, 1515, 1517.5, 1520, 1522.5, 1525, 1527.5, 1530, 1532.5, 1535, 1537.5],
            "gridWidth": {"condition": {"test": "datum.value % 25 === 0", "value": 3}, "value": 1.6},
            "gridColor": {"condition": {"test": "datum.value % 25 === 0", "value": "#b2b2b2"}, "value": "#c2c2c2"}}},
        "x": {"field": "value", "type": "quantitative", "title": null, "scale": {"domain": [0, 10], "nice": false, "zero": false}, "axis": {"orient": "top", "grid": true, "values": [2, 4, 6, 8]}},
        "order": {"field": "depth", "type": "quantitative"}
      }
    },
    {
      "width": 185, "height": 541,
      "encoding": {
        "y": {"field": "depth", "type": "quantitative", "title": null, "scale": {"domain": [1489.9, 1539.6], "reverse": true, "nice": false, "zero": false},
          "axis": {"orient": "left", "grid": true, "values": [1490, 1492.5, 1495, 1497.5, 1500, 1502.5, 1505, 1507.5, 1510, 1512.5, 1515, 1517.5, 1520, 1522.5, 1525, 1527.5, 1530, 1532.5, 1535, 1537.5],
            "gridWidth": {"condition": {"test": "datum.value % 25 === 0", "value": 3}, "value": 1.6},
            "gridColor": {"condition": {"test": "datum.value % 25 === 0", "value": "#b2b2b2"}, "value": "#c2c2c2"}}}
      },
      "layer": [
        {"data": {"name": "AG"}, "mark": {"type": "line", "color": "#ff0000", "strokeWidth": 2, "clip": true},
          "encoding": {"x": {"field": "value", "type": "quantitative", "title": null, "scale": {"domain": [0, 4.7194], "nice": false, "zero": false}, "axis": {"orient": "top", "grid": true, "values": [1, 2, 3, 4]}}, "order": {"field": "depth", "type": "quantitative"}}},
        {"data": {"name": "AGL"}, "mark": {"type": "line", "color": "#0000ff", "strokeWidth": 2, "clip": true},
          "encoding": {"x": {"field": "value", "type": "quantitative", "title": null, "scale": {"domain": [0, 4.7194], "nice": false, "zero": false}, "axis": {"orient": "top", "grid": true, "values": [1, 2, 3, 4]}}, "order": {"field": "depth", "type": "quantitative"}}}
      ]
    }
  ]
}
